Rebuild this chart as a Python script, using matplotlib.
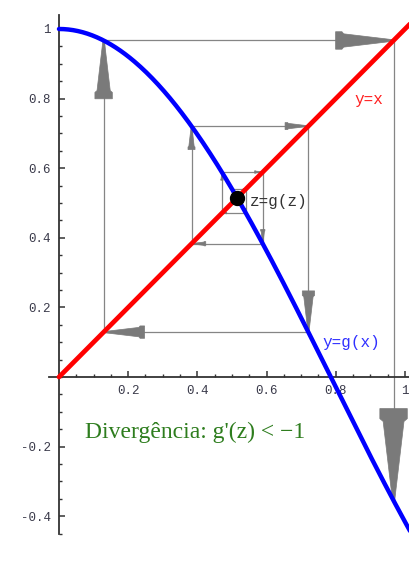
import matplotlib.pyplot as plt
import numpy as np
from matplotlib.patches import Polygon

# curve y = g(x) = cos(k x), fixed point z and cobweb orbit values
k = 2.0
z = 0.515
orbit = [0.500, 0.540, 0.471, 0.589, 0.383, 0.721, 0.129, 0.967, -0.355]

yticks = [-0.4, -0.2, 0.2, 0.4, 0.6, 0.8, 1.0]
ytick_labels = ["-0.4", "-0.2", "0.2", "0.4", "0.6", "0.8", "1"]
xticks = [0.2, 0.4, 0.6, 0.8, 1.0]
xtick_labels = ["0.2", "0.4", "0.6", "0.8", "1"]

grey = "#858585"
mono = "Liberation Mono"


def arrow_head(ax, p0, p1, frac=0.2, ratio=0.3):
    # tapered head with a flat flange at the end of segment p0 -> p1
    p0 = np.array(p0)
    p1 = np.array(p1)
    d = p1 - p0
    L = np.hypot(*d)
    u = d / L
    n = np.array([-u[1], u[0]])
    h = frac * L
    w = ratio * h
    pts = [p1 + n * 0.04 * w,
           p1 - u * 0.86 * h + n * 0.38 * w,
           p1 - u * 0.89 * h + n * 0.5 * w,
           p1 - u * h + n * 0.5 * w,
           p1 - u * h - n * 0.5 * w,
           p1 - u * 0.89 * h - n * 0.5 * w,
           p1 - u * 0.86 * h - n * 0.38 * w,
           p1 - n * 0.04 * w]
    ax.add_patch(Polygon(pts, closed=True, fc="#7a7a7a", ec="#7a7a7a",
                         lw=0.5, zorder=2))


fig = plt.figure(figsize=(4.09, 5.61), dpi=100)
ax = fig.add_axes([0, 0, 1, 1])
ax.set_xlim(-0.1705, 1.0116)
ax.set_ylim(-0.5287, 1.0833)

# cobweb: vertical to the curve, horizontal to the diagonal
for i in range(len(orbit) - 1):
    a, b = orbit[i], orbit[i + 1]
    ax.plot([a, a], [a, b], color=grey, lw=0.9, zorder=1)
    arrow_head(ax, (a, a), (a, b))
    if i < len(orbit) - 2:
        ax.plot([a, b], [b, b], color=grey, lw=0.9, zorder=1)
        arrow_head(ax, (a, b), (b, b))

x = np.linspace(0, 1.02, 300)
ax.plot(x, x, color="#ff0000", lw=3.4, solid_capstyle="round", zorder=3)
ax.plot(x, np.cos(k * x), color="#0000ff", lw=3.2, solid_capstyle="round", zorder=3)
ax.plot([z], [z], "o", color="black", ms=10, zorder=5)

ax.text(0.855, 0.796, "y=x", color="#ff2020", fontsize=11.5, family=mono,
        va="center", ha="left")
ax.text(0.760, 0.10, "y=g(x)", color="#3030ff", fontsize=11.5, family=mono,
        va="center", ha="left")
ax.text(0.552, 0.503, "z=g(z)", color="#333333", fontsize=11.5, family=mono,
        va="center", ha="left")
ax.text(0.075, -0.158, "Divergência: g'(z) < \u22121", color="#2e7d1e",
        fontsize=17, family="Liberation Serif", va="center", ha="left")

# axes crossing at the origin
for s in ["top", "right"]:
    ax.spines[s].set_visible(False)
ax.spines["left"].set_position(("data", 0))
ax.spines["bottom"].set_position(("data", 0))
ax.spines["left"].set_bounds(-0.45, 1.04)
ax.spines["bottom"].set_bounds(-0.03, 1.1)
for s in ["left", "bottom"]:
    ax.spines[s].set_color("#333333")
    ax.spines[s].set_linewidth(1.3)

ax.set_yticks(yticks)
ax.set_yticklabels(ytick_labels)
ax.set_xticks(xticks)
ax.set_xticklabels(xtick_labels)
ax.set_yticks(np.arange(-0.45, 1.01, 0.05), minor=True)
ax.set_xticks(np.arange(0.05, 1.01, 0.05), minor=True)
ax.tick_params(which="major", direction="in", length=4, width=1.1,
               color="#333333", labelsize=9, labelcolor="#3a3a4a", pad=6)
ax.tick_params(which="minor", direction="in", length=2.2, width=1.0,
               color="#333333")
for lab in ax.get_xticklabels() + ax.get_yticklabels():
    lab.set_family(mono)

fig.savefig("out.png", dpi=100)
